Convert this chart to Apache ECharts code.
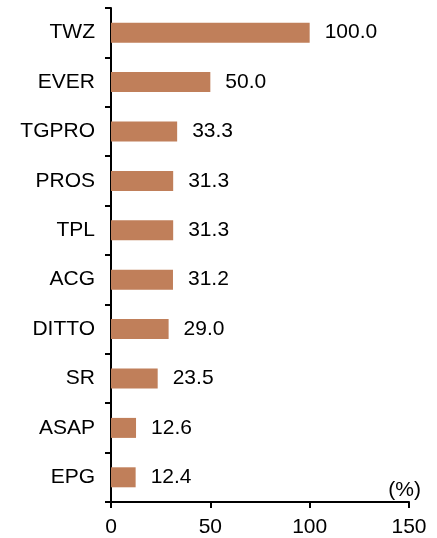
<!DOCTYPE html>
<html>
<head>
<meta charset="utf-8">
<script src="https://cdn.jsdelivr.net/npm/echarts@6/dist/echarts.min.js"></script>
<style>
  html, body { margin: 0; padding: 0; background: #fff; }
  #chart { width: 437px; height: 538px; }
</style>
</head>
<body>
<div id="chart"></div>
<script>
// categories top to bottom
const categories = ['TWZ', 'EVER', 'TGPRO', 'PROS', 'TPL', 'ACG', 'DITTO', 'SR', 'ASAP', 'EPG'];
const values = [100.0, 50.0, 33.3, 31.3, 31.3, 31.2, 29.0, 23.5, 12.6, 12.4];
const xTicks = [0, 50, 100, 150];

const myChart = echarts.init(document.getElementById('chart'));
const font = 'Liberation Sans, Arial, sans-serif';

const option = {
  animation: false,
  grid: { left: 111, right: 28, top: 8, bottom: 35 },
  xAxis: {
    type: 'value',
    min: xTicks[0],
    max: xTicks[xTicks.length - 1],
    interval: 50,
    splitLine: { show: false },
    axisLine: { show: true, lineStyle: { color: '#000', width: 2 } },
    axisTick: { show: true, length: 6, lineStyle: { color: '#000', width: 2 } },
    axisLabel: { color: '#000', fontSize: 21, fontFamily: font, margin: 15 }
  },
  yAxis: {
    type: 'category',
    inverse: true,
    data: categories,
    axisLine: { show: true, lineStyle: { color: '#000', width: 2 } },
    axisTick: { show: true, length: 6, lineStyle: { color: '#000', width: 2 } },
    axisLabel: { color: '#000', fontSize: 21, fontFamily: font, margin: 16 }
  },
  graphic: [{
    type: 'text',
    right: 16,
    top: 480,
    style: { text: '(%)', fontSize: 21, fontFamily: font, fill: '#000' }
  }],
  series: [{
    type: 'bar',
    data: values,
    barWidth: 20,
    itemStyle: { color: '#C07F5A' },
    label: {
      show: true,
      position: 'right',
      distance: 15,
      color: '#000',
      fontSize: 21,
      fontFamily: font,
      formatter: p => p.value.toFixed(1)
    }
  }]
};
myChart.setOption(option);
</script>
</body>
</html>
